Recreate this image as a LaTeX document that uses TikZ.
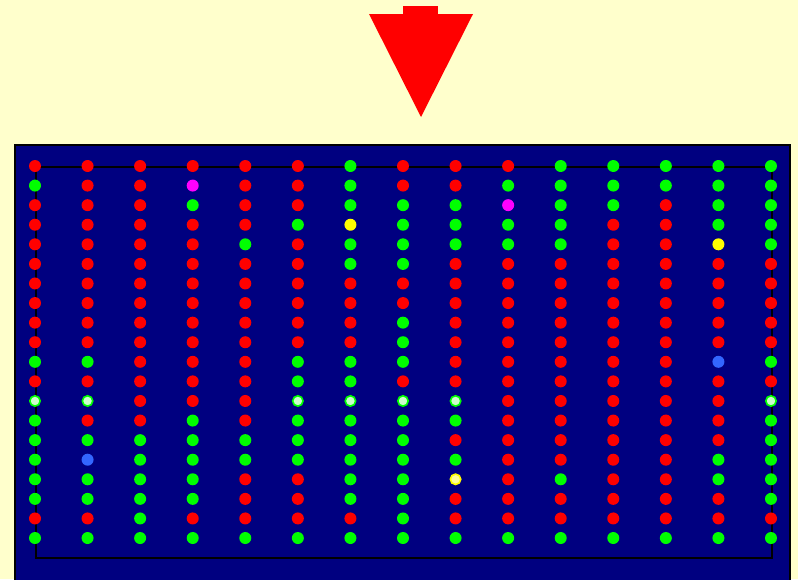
\documentclass[tikz,border=0pt]{standalone}
\usepackage{xcolor}
\usepackage{tikz}

\definecolor{paper}{HTML}{FFFFCC}
\definecolor{navy}{HTML}{000080}
\definecolor{dotred}{HTML}{FF0000}
\definecolor{dotgreen}{HTML}{00FF00}
\definecolor{dotmagenta}{HTML}{FF00FF}
\definecolor{dotyellow}{HTML}{FFFF00}
\definecolor{dotblue}{HTML}{3366FF}
\definecolor{palegreen}{HTML}{CCFFCC}
\definecolor{paleyellow}{HTML}{FFFF99}

\begin{document}
\begin{tikzpicture}[
    x=0.75pt, y=-0.75pt,
    % dot styles, one per colour code
    dot/.style={circle, inner sep=0pt, minimum size=9pt, draw=none},
    dotR/.style={dot, fill=dotred},
    dotG/.style={dot, fill=dotgreen},
    dotM/.style={dot, fill=dotmagenta},
    dotY/.style={dot, fill=dotyellow},
    dotB/.style={dot, fill=dotblue},
    dotW/.style={dot, fill=palegreen, draw=dotgreen, line width=1.2pt, minimum size=7.8pt},
    dotV/.style={dot, fill=paleyellow, draw=dotyellow, line width=1.2pt, minimum size=7.8pt},
    panel/.style={fill=navy, draw=black, line width=1.5pt},
    frame/.style={draw=black, line width=1.6pt}
]

\clip (0,0) rectangle (798,579);
\useasboundingbox (0,0) rectangle (798,579);
\fill[paper] (0,0) rectangle (798,579);

% Arrow at the top
\fill[dotred] (403,6) rectangle (438,15);
\fill[dotred] (369,14) -- (473,14) -- (421,117) -- cycle;

% Panel
\draw[panel] (15,145) rectangle (790,600);

% Frame behind the dots
\coordinate (frameTL) at (36,167);
\coordinate (frameTR) at (772,167);
\coordinate (frameBR) at (772,558);
\coordinate (frameBL) at (36,558);
\draw[frame] (frameTL) -- (frameTR) -- (frameBR) -- (frameBL) -- cycle;

% Dots, row by row
\foreach \row [count=\r] in {
    {R,R,R,R,R,R,G,R,R,R,G,G,G,G,G},
    {G,R,R,M,R,R,G,R,R,G,G,G,G,G,G},
    {R,R,R,G,R,R,G,G,G,M,G,G,R,G,G},
    {R,R,R,R,R,G,Y,G,G,G,G,R,R,G,G},
    {R,R,R,R,G,R,G,G,G,G,G,R,R,Y,G},
    {R,R,R,R,R,R,G,G,R,R,R,R,R,R,R},
    {R,R,R,R,R,R,R,R,R,R,R,R,R,R,R},
    {R,R,R,R,R,R,R,R,R,R,R,R,R,R,R},
    {R,R,R,R,R,R,R,G,R,R,R,R,R,R,R},
    {R,R,R,R,R,R,R,G,R,R,R,R,R,R,R},
    {G,G,R,R,R,G,G,G,R,R,R,R,R,B,G},
    {R,R,R,R,R,G,G,R,R,R,R,R,R,R,R},
    {W,W,R,R,R,W,W,W,W,R,R,R,R,R,W},
    {G,R,R,G,R,G,G,G,G,R,R,R,R,R,G},
    {G,G,G,G,G,G,G,G,R,R,R,R,R,R,G},
    {G,B,G,G,G,G,G,G,G,R,R,R,R,G,G},
    {G,G,G,G,R,R,G,G,V,R,G,R,R,G,G},
    {G,G,G,G,R,R,G,G,R,R,R,R,R,R,G},
    {R,R,G,R,R,R,R,G,R,R,R,R,R,R,R},
    {G,G,G,G,G,G,G,G,G,G,G,G,G,G,G}} {
  \foreach \c [count=\k] in \row {
    \node[dot\c] (d-\r-\k) at ({35+(\k-1)*52.57},{166+(\r-1)*19.58}) {};
  }
}

\end{tikzpicture}
\end{document}
